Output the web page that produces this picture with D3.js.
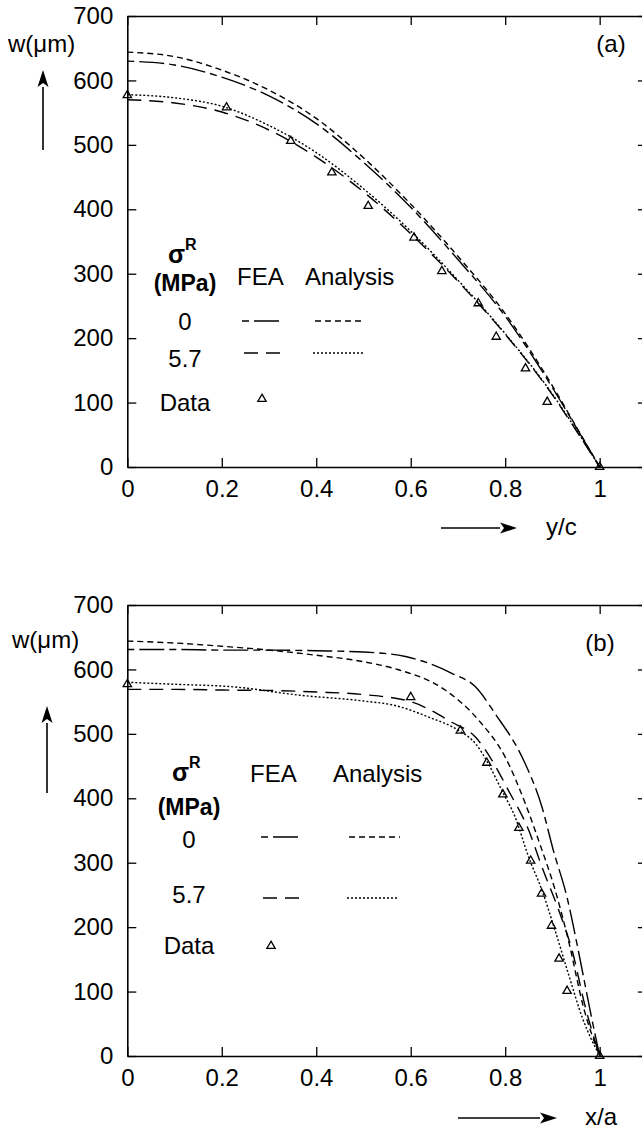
<!DOCTYPE html>
<html>
<head>
<meta charset="utf-8">
<script src="https://cdn.jsdelivr.net/npm/d3@7"></script>
<style>
  body { margin: 0; background: #fff; }
  svg { display: block; }
  text { font-family: "Liberation Sans", Arial, sans-serif; fill: #000; }
</style>
</head>
<body>
<div id="chart"></div>
<script>
// tick values, shared by both panels
const xTicks = [0, 0.2, 0.4, 0.6, 0.8, 1];
const yTicks = [0, 100, 200, 300, 400, 500, 600, 700];

// legend text
const legendRows = ["0", "5.7", "Data"];
const legendCols = ["FEA", "Analysis"];

// panel (a): w against y/c
const feaA0 = [[0,630],[0.1,624],[0.2,605],[0.3,576],[0.4,533],[0.5,473],[0.6,403],[0.7,322],[0.8,234],[0.9,123],[0.95,62],[1,0]];
const anaA0 = [[0,644],[0.1,637],[0.2,616],[0.3,585],[0.4,541],[0.5,480],[0.6,408],[0.7,327],[0.8,238],[0.9,126],[0.95,63],[1,0]];
const feaA57 = [[0,570],[0.1,565],[0.2,551],[0.3,523],[0.4,481],[0.5,427],[0.6,362],[0.7,288],[0.8,206],[0.9,112],[0.95,57],[1,0]];
const anaA57 = [[0,578],[0.1,573],[0.2,560],[0.3,530],[0.4,488],[0.5,432],[0.6,366],[0.7,290],[0.8,207],[0.9,113],[0.95,58],[1,0]];
const dataA = [[0,577],[0.21,558],[0.346,506],[0.433,457],[0.51,405],[0.607,356],[0.666,304],[0.743,254],[0.781,202],[0.843,153],[0.889,101],[1,0]];

// panel (b): w against x/a
const feaB0 = [[0,631],[0.1,631],[0.2,630],[0.3,630],[0.4,629],[0.5,627],[0.589,620],[0.687,594],[0.737,573],[0.779,531],[0.839,459],[0.878,386],[0.902,319],[0.931,246],[0.955,163],[0.98,70],[1,0]];
const anaB0 = [[0,644],[0.1,641],[0.2,636],[0.3,630],[0.4,622],[0.5,612],[0.567,601],[0.673,568],[0.744,521],[0.8,464],[0.843,391],[0.871,334],[0.906,257],[0.934,179],[0.966,75],[1,0]];
const feaB57 = [[0,569],[0.1,569],[0.2,568],[0.323,567],[0.4,565],[0.5,561],[0.6,550],[0.687,518],[0.737,495],[0.772,459],[0.807,412],[0.85,350],[0.878,293],[0.914,225],[0.942,163],[0.97,75],[1,0]];
const anaB57 = [[0,580],[0.1,577],[0.224,573],[0.365,560],[0.5,551],[0.567,544],[0.638,526],[0.702,505],[0.737,485],[0.764,454],[0.793,412],[0.821,371],[0.85,308],[0.878,257],[0.906,194],[0.934,127],[0.963,60],[1,0]];
const dataB = [[0,577],[0.6,557],[0.705,505],[0.761,455],[0.795,406],[0.829,354],[0.854,303],[0.877,252],[0.898,202],[0.914,151],[0.931,101],[1,0]];

const W = 642, H = 1130;
const dashFea0 = "7,5,25,5";
const dashAna0 = "6,4";
const dashFea57 = "14,8";
const dashAna57 = "2,2";

const svg = d3.select("#chart").append("svg")
  .attr("width", W)
  .attr("height", H);

function arrow(g, x1, y1, x2, y2) {
  const ang = Math.atan2(y2 - y1, x2 - x1);
  const len = 17, half = 5.5;
  const bx = x2 - len * Math.cos(ang), by = y2 - len * Math.sin(ang);
  g.append("line")
    .attr("x1", x1).attr("y1", y1)
    .attr("x2", bx).attr("y2", by)
    .attr("stroke", "#000").attr("stroke-width", 1.6);
  const px = -Math.sin(ang) * half, py = Math.cos(ang) * half;
  g.append("path")
    .attr("d", `M${x2},${y2}L${bx + px},${by + py}L${bx + 4 * Math.cos(ang)},${by + 4 * Math.sin(ang)}L${bx - px},${by - py}Z`)
    .attr("fill", "#000");
}

function drawPanel(p) {
  const x = d3.scaleLinear().domain([0, 1.1]).range([127.3, 646.9]);
  const y = d3.scaleLinear().domain([0, 700]).range([p.top + 451, p.top]);
  const g = svg.append("g");

  const fmt = d => d3.format("~g")(d);

  const styleAxis = sel => {
    sel.attr("font-size", 24).attr("font-family", "Liberation Sans, Arial, sans-serif");
    sel.select(".domain").attr("stroke-width", 1.6);
    sel.selectAll(".tick line").attr("stroke-width", 1.3);
  };

  g.append("g")
    .attr("transform", `translate(0,${y(0)})`)
    .call(d3.axisBottom(x).tickValues(xTicks).tickSize(-9).tickSizeOuter(0).tickPadding(13).tickFormat(fmt))
    .call(styleAxis);
  g.append("g")
    .attr("transform", `translate(0,${y(700)})`)
    .call(d3.axisTop(x).tickValues(xTicks).tickSize(-9).tickSizeOuter(0).tickFormat(""))
    .call(styleAxis);
  g.append("g")
    .attr("transform", `translate(${x(0)},0)`)
    .call(d3.axisLeft(y).tickValues(yTicks).tickSize(-9).tickSizeOuter(0).tickPadding(14).tickFormat(fmt))
    .call(styleAxis);
  g.append("g")
    .attr("transform", `translate(${x(1.1)},0)`)
    .call(d3.axisRight(y).tickValues(yTicks).tickSize(-9).tickSizeOuter(0).tickFormat(""))
    .call(styleAxis);

  const line = d3.line()
    .x(d => x(d[0]))
    .y(d => y(d[1]))
    .curve(d3.curveMonotoneX);

  const series = [
    { values: p.fea0, dash: dashFea0 },
    { values: p.ana0, dash: dashAna0 },
    { values: p.fea57, dash: dashFea57 },
    { values: p.ana57, dash: dashAna57 }
  ];

  g.selectAll(".curve")
    .data(series)
    .enter().append("path")
    .attr("class", "curve")
    .attr("d", d => line(d.values))
    .attr("fill", "none")
    .attr("stroke", "#000")
    .attr("stroke-width", 1.4)
    .attr("stroke-dasharray", d => d.dash);

  const tri = d3.symbol(d3.symbolTriangle, 30);
  g.selectAll(".pt")
    .data(p.data)
    .enter().append("path")
    .attr("class", "pt")
    .attr("d", tri)
    .attr("transform", d => `translate(${x(d[0])},${y(d[1])})`)
    .attr("fill", "none")
    .attr("stroke", "#000")
    .attr("stroke-width", 1.3);

  // y title and arrow
  g.append("text")
    .attr("x", p.wx).attr("y", p.top + p.wdy)
    .attr("font-size", 24)
    .text("w(\u03bcm)");
  arrow(g, p.ax, p.arrowTail, p.ax, p.arrowTip);

  // panel tag
  g.append("text")
    .attr("x", p.tagX).attr("y", p.tagY)
    .attr("text-anchor", "middle")
    .attr("font-size", 24)
    .text(p.tag);

  // x title and arrow
  arrow(g, p.xa1, p.xay, p.xa2, p.xay);
  g.append("text")
    .attr("x", p.xtx).attr("y", p.xay + 7)
    .attr("font-size", 24)
    .text(p.xTitle);

  // legend
  const L = p.leg;
  const sig = g.append("text")
    .attr("x", L.sx).attr("y", L.sy)
    .attr("font-size", 25)
    .attr("font-weight", "bold");
  sig.append("tspan").text("\u03c3");
  sig.append("tspan").attr("font-size", 16).attr("dy", -13).text("R");
  g.append("text")
    .attr("x", L.rowX).attr("y", L.mpaY)
    .attr("text-anchor", "middle")
    .attr("font-size", 23)
    .attr("font-weight", "bold")
    .text("(MPa)");
  g.selectAll(".colhead")
    .data(legendCols)
    .enter().append("text")
    .attr("class", "colhead")
    .attr("x", (d, i) => L.colX[i])
    .attr("y", L.headY)
    .attr("font-size", 24)
    .text(d => d);
  g.selectAll(".rowlab")
    .data(legendRows)
    .enter().append("text")
    .attr("class", "rowlab")
    .attr("x", L.rowX)
    .attr("y", (d, i) => L.rowY[i])
    .attr("text-anchor", "middle")
    .attr("font-size", 24)
    .text(d => d);

  const samples = [
    { x1: L.feaX[0], x2: L.feaX[1], y: L.lineY[0], dash: dashFea0 },
    { x1: L.anaX[0], x2: L.anaX[1], y: L.lineY[0], dash: dashAna0 },
    { x1: L.feaX[0] + 2, x2: L.feaX[1] + 2, y: L.lineY[1], dash: dashFea57 },
    { x1: L.anaX[0] - 2, x2: L.anaX[1] - 2, y: L.lineY[1], dash: dashAna57 }
  ];
  g.selectAll(".sample")
    .data(samples)
    .enter().append("line")
    .attr("class", "sample")
    .attr("x1", d => d.x1).attr("x2", d => d.x2)
    .attr("y1", d => d.y).attr("y2", d => d.y)
    .attr("stroke", "#000")
    .attr("stroke-width", 1.5)
    .attr("stroke-dasharray", d => d.dash);
  g.append("path")
    .attr("d", tri)
    .attr("transform", `translate(${L.triX},${L.triY})`)
    .attr("fill", "none")
    .attr("stroke", "#000")
    .attr("stroke-width", 1.3);
}

drawPanel({
  top: 16,
  fea0: feaA0, ana0: anaA0, fea57: feaA57, ana57: anaA57, data: dataA,
  wx: 8, wdy: 36, ax: 43, arrowTail: 150, arrowTip: 70,
  tag: "(a)", tagX: 611, tagY: 52,
  xTitle: "y/c", xa1: 441, xa2: 517, xay: 528, xtx: 546,
  leg: {
    sx: 168, sy: 263, rowX: 185, mpaY: 291,
    colX: [237, 305], headY: 285,
    rowY: [330, 367, 411],
    feaX: [242, 279], anaX: [315, 365], lineY: [321, 353],
    triX: 262, triY: 399
  }
});

drawPanel({
  top: 605,
  fea0: feaB0, ana0: anaB0, fea57: feaB57, ana57: anaB57, data: dataB,
  wx: 12, wdy: 43, ax: 47, arrowTail: 793, arrowTip: 706,
  tag: "(b)", tagX: 600, tagY: 651,
  xTitle: "x/a", xa1: 458, xa2: 557, xay: 1118, xtx: 585,
  leg: {
    sx: 172, sy: 781, rowX: 189, mpaY: 815,
    colX: [250, 333], headY: 782,
    rowY: [848, 903, 954],
    feaX: [261, 298], anaX: [349, 400], lineY: [837, 898],
    triX: 271, triY: 946
  }
});
</script>
</body>
</html>
